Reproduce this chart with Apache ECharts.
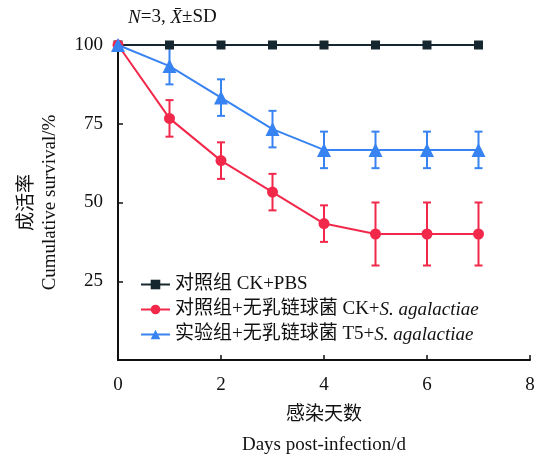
<!DOCTYPE html>
<html>
<head>
<meta charset="utf-8">
<script src="https://cdn.jsdelivr.net/npm/echarts@6/dist/echarts.min.js"></script>
<style>
  html, body { margin: 0; padding: 0; background: #fff; }
  #main { width: 542px; height: 456px; }
</style>
</head>
<body>
<div id="main"></div>
<script>
// 数据
const days = [0, 1, 2, 3, 4, 5, 6, 7];
const ckPbs = [100, 100, 100, 100, 100, 100, 100, 100];
const ckSa = [100, 76.7, 63.3, 53.3, 43.3, 40, 40, 40];
const ckSaSd = [0, 5.8, 5.8, 5.8, 5.8, 10, 10, 10];
const t5Sa = [100, 93.3, 83.3, 73.3, 66.7, 66.7, 66.7, 66.7];
const t5SaSd = [0, 5.8, 5.8, 5.8, 5.8, 5.8, 5.8, 5.8];

const FONT = '"Liberation Serif", "Noto Sans CJK SC", serif';
const FS = 19;
const cBlack = '#17272f', cRed = '#f2284b', cBlue = '#3883f2';

function pairs(vals) {
  return days.map((d, i) => [d, vals[i]]);
}
function errData(vals, sd) {
  let out = [];
  for (let i = 0; i < days.length; i++) {
    if (sd[i] > 0) out.push([days[i], vals[i] - sd[i], vals[i] + sd[i]]);
  }
  return out;
}
function errBar(color) {
  return function (params, api) {
    let lo = api.coord([api.value(0), api.value(1)]);
    let hi = api.coord([api.value(0), api.value(2)]);
    let w = 4;
    let st = { stroke: color, lineWidth: 2 };
    return {
      type: 'group',
      children: [
        { type: 'line', shape: { x1: lo[0], y1: lo[1], x2: hi[0], y2: hi[1] }, style: st },
        { type: 'line', shape: { x1: lo[0] - w, y1: lo[1], x2: lo[0] + w, y2: lo[1] }, style: st },
        { type: 'line', shape: { x1: hi[0] - w, y1: hi[1], x2: hi[0] + w, y2: hi[1] }, style: st }
      ]
    };
  };
}

let myChart = echarts.init(document.getElementById('main'));
let option = {
  animation: false,
  textStyle: { fontFamily: FONT },
  title: {
    text: '{i|N}=3, {i|X\u0304}±SD',
    left: 123,
    top: 3,
    textStyle: {
      fontFamily: FONT, fontSize: FS, fontWeight: 'normal', color: '#111',
      rich: { i: { fontFamily: FONT, fontSize: FS, fontStyle: 'italic', color: '#111' } }
    }
  },
  legend: {
    orient: 'vertical',
    left: 135,
    top: 270,
    itemWidth: 29,
    itemHeight: 12,
    itemGap: 6,
    data: ['pbs', 'ck', 't5'],
    formatter: function (name) {
      if (name === 'pbs') return '对照组 CK+PBS';
      if (name === 'ck') return '对照组+无乳链球菌 CK+{i|S. agalactiae}';
      return '实验组+无乳链球菌 T5+{i|S. agalactiae}';
    },
    textStyle: {
      fontFamily: FONT, fontSize: FS, color: '#111',
      rich: { i: { fontFamily: FONT, fontSize: FS, fontStyle: 'italic', color: '#111' } }
    }
  },
  grid: { left: 118, right: 12, top: 45, bottom: 96, containLabel: false, outerBoundsMode: 'none' },
  xAxis: {
    type: 'value',
    min: 0, max: 8, interval: 2,
    name: '感染天数\nDays post-infection/d',
    nameLocation: 'middle',
    nameGap: 40,
    nameTextStyle: { fontFamily: FONT, fontSize: FS, color: '#111', lineHeight: 30 },
    axisLine: { show: true, lineStyle: { color: '#111', width: 2 } },
    axisTick: { show: true, inside: true, length: 5, lineStyle: { color: '#111', width: 1.5 } },
    axisLabel: { fontFamily: FONT, fontSize: FS, color: '#111', margin: 16 },
    splitLine: { show: false }
  },
  yAxis: {
    type: 'value',
    min: 0, max: 100, interval: 25,
    name: '成活率\nCumulative survival/%',
    nameLocation: 'middle',
    nameGap: 56,
    nameRotate: 90,
    nameTextStyle: { fontFamily: FONT, fontSize: FS, color: '#111', lineHeight: 23 },
    axisLine: { show: true, lineStyle: { color: '#111', width: 2 } },
    axisTick: { show: true, inside: true, length: 5, lineStyle: { color: '#111', width: 1.5 } },
    axisLabel: {
      fontFamily: FONT, fontSize: FS, color: '#111', margin: 15,
      formatter: function (v) { return v === 0 ? '' : v; }
    },
    splitLine: { show: false }
  },
  series: [
    {
      type: 'custom',
      name: 'ckErr',
      renderItem: errBar(cRed),
      data: errData(ckSa, ckSaSd),
      z: 2
    },
    {
      type: 'custom',
      name: 't5Err',
      renderItem: errBar(cBlue),
      data: errData(t5Sa, t5SaSd),
      z: 2
    },
    {
      name: 'pbs',
      type: 'line',
      data: pairs(ckPbs),
      symbol: 'rect',
      symbolSize: 9,
      lineStyle: { color: cBlack, width: 2 },
      itemStyle: { color: cBlack },
      z: 3
    },
    {
      name: 'ck',
      type: 'line',
      data: pairs(ckSa),
      symbol: 'circle',
      symbolSize: 11,
      lineStyle: { color: cRed, width: 2 },
      itemStyle: { color: cRed },
      z: 4
    },
    {
      name: 't5',
      type: 'line',
      data: pairs(t5Sa),
      symbol: 'triangle',
      symbolSize: 14,
      lineStyle: { color: cBlue, width: 2 },
      itemStyle: { color: cBlue },
      z: 5
    }
  ]
};
myChart.setOption(option);
</script>
</body>
</html>
